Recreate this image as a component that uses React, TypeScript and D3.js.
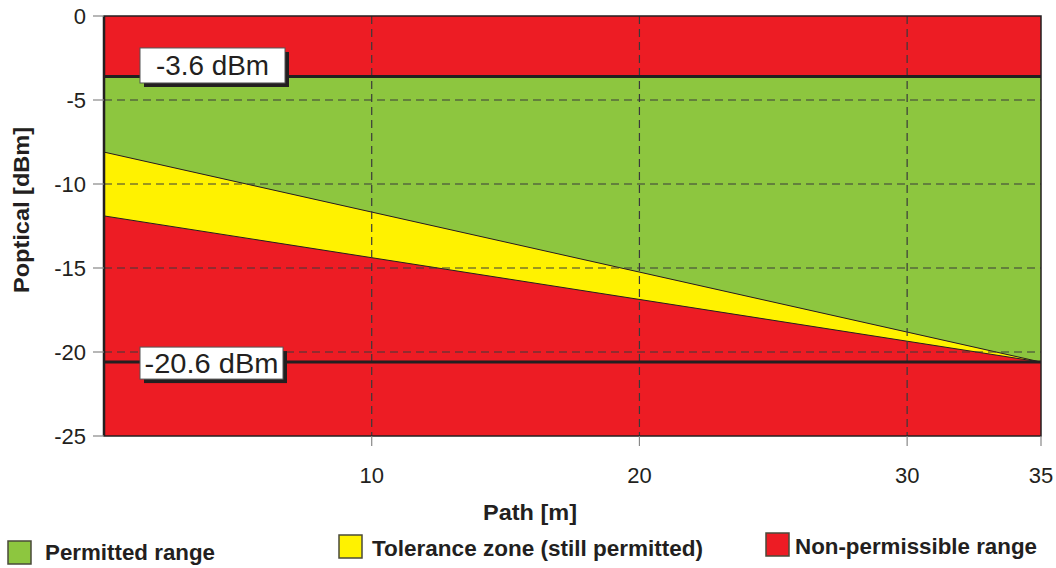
import React from "react";
import * as d3 from "d3";

const xTicks = [10, 20, 30, 35];
const yTicks = [0, -5, -10, -15, -20, -25];
const xGrid = [10, 20, 30];
const yGrid = [-5, -10, -15, -20];
const upperLimit = -3.6;
const lowerLimit = -20.6;
const limitLabels = ["-3.6 dBm", "-20.6 dBm"];
const toleranceUpper: [number, number][] = [[0, -8.1], [35, -20.6]];
const toleranceLower: [number, number][] = [[0, -11.9], [35, -20.6]];
const legendLabels = ["Permitted range", "Tolerance zone (still permitted)", "Non-permissible range"];
const legendColors = ["#8DC63F", "#FFF200", "#ED1C24"];

const W = 1056, H = 568;
const M = { left: 104, top: 16, right: 1041, bottom: 436 };
const RED = "#ED1C24", GREEN = "#8DC63F", YELLOW = "#FFF200";
const INK = "#231F20";

export default function App() {
  const x = d3.scaleLinear().domain([0, 35]).range([M.left, M.right]);
  const y = d3.scaleLinear().domain([0, -25]).range([M.top, M.bottom]);
  const line = d3.line<[number, number]>().x(d => x(d[0])).y(d => y(d[1]));

  const greenPoly: [number, number][] = [[0, upperLimit], [35, upperLimit], ...toleranceUpper.slice().reverse()];
  const yellowPoly: [number, number][] = [...toleranceUpper, ...toleranceLower.slice().reverse()];
  const font = "'Liberation Sans', Arial, sans-serif";

  const labelBox = (val: number, text: string, bx: number, w: number, h: number, dy: number, tw: number) => {
    const cy = y(val) + dy;
    return (
      <g>
        <rect x={bx + 4} y={cy - h / 2 + 4} width={w} height={h} fill={INK} />
        <rect x={bx} y={cy - h / 2} width={w} height={h} fill="#fff" stroke="#555" strokeWidth={1} />
        <text x={bx + w / 2} y={cy + 10} textAnchor="middle" fontSize={28} fill={INK}
          textLength={tw} lengthAdjust="spacingAndGlyphs">{text}</text>
      </g>
    );
  };

  const legendSq = [[8, 541], [339, 535], [766, 533]];
  const legendText = [[45, 560, 170], [372, 556, 331], [795, 554, 242]];

  return (
    <svg width={W} height={H} style={{ position: "absolute", left: 0, top: 0 }} fontFamily={font}>
      <rect x={M.left} y={M.top} width={M.right - M.left} height={M.bottom - M.top} fill={RED} />
      <path d={line(greenPoly) + "Z"} fill={GREEN} />
      <path d={line(yellowPoly) + "Z"} fill={YELLOW} />
      <path d={line(toleranceUpper)!} stroke={INK} strokeWidth={1} fill="none" />
      <path d={line(toleranceLower)!} stroke={INK} strokeWidth={1} fill="none" />
      {xGrid.map(v => (
        <line key={"gx" + v} x1={x(v)} x2={x(v)} y1={M.top} y2={M.bottom} stroke="#3a3a3a" strokeWidth={1.2} strokeDasharray="8,5" />
      ))}
      {yGrid.map(v => (
        <line key={"gy" + v} x1={M.left} x2={M.right} y1={y(v)} y2={y(v)} stroke="#3a3a3a" strokeWidth={1.2} strokeDasharray="8,5" />
      ))}
      {[upperLimit, lowerLimit].map(v => (
        <line key={"lim" + v} x1={M.left} x2={M.right} y1={y(v)} y2={y(v)} stroke={INK} strokeWidth={3} />
      ))}
      <rect x={M.left} y={M.top} width={M.right - M.left} height={M.bottom - M.top} fill="none" stroke={INK} strokeWidth={1.5} />
      <line x1={M.left} x2={M.left} y1={M.top} y2={M.bottom} stroke={INK} strokeWidth={2.5} />
      {yTicks.map(v => (
        <g key={"yt" + v}>
          <line x1={93} x2={M.left} y1={y(v)} y2={y(v)} stroke="#888" strokeWidth={1.2} />
          <text x={86} y={y(v) + 8} textAnchor="end" fontSize={22} fill={INK}>{v}</text>
        </g>
      ))}
      {xTicks.map(v => (
        <g key={"xt" + v}>
          <line x1={x(v)} x2={x(v)} y1={M.bottom} y2={M.bottom + 10} stroke="#888" strokeWidth={1.2} />
          <text x={x(v)} y={483} textAnchor="middle" fontSize={22} fill={INK}>{v}</text>
        </g>
      ))}
      {labelBox(upperLimit, limitLabels[0], 140, 145, 35, -11, 113)}
      {labelBox(lowerLimit, limitLabels[1], 140, 143, 32, 1, 134)}
      <text x={530} y={520} textAnchor="middle" fontSize={22} fontWeight="bold" fill={INK}
        textLength={94} lengthAdjust="spacingAndGlyphs">Path [m]</text>
      <text transform={`translate(29,${210}) rotate(-90)`} textAnchor="middle" fontSize={22} fontWeight="bold" fill={INK}
        textLength={166} lengthAdjust="spacingAndGlyphs">Poptical [dBm]</text>
      {legendLabels.map((label, i) => (
        <g key={label}>
          <rect x={legendSq[i][0]} y={legendSq[i][1]} width={23} height={23} fill={legendColors[i]} stroke="#4a4a3a" strokeWidth={1.5} />
          <text x={legendText[i][0]} y={legendText[i][1]} fontSize={22} fontWeight="bold" fill={INK}
            textLength={legendText[i][2]} lengthAdjust="spacingAndGlyphs">{label}</text>
        </g>
      ))}
    </svg>
  );
}
